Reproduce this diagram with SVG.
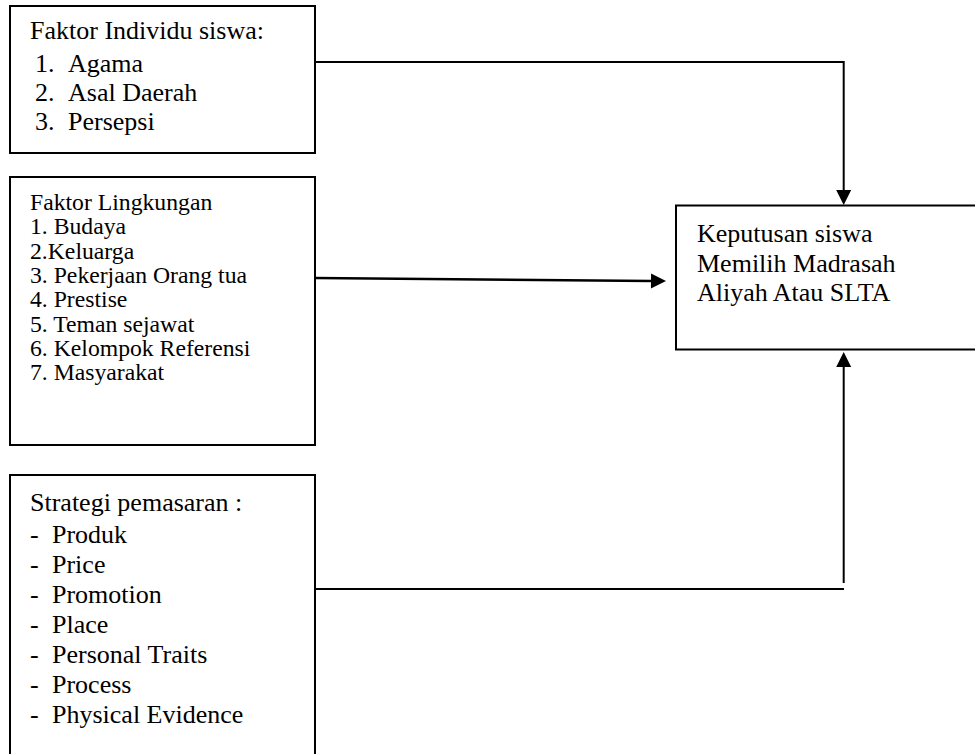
<svg xmlns="http://www.w3.org/2000/svg" width="975" height="754" viewBox="0 0 975 754">
<style>
.box{fill:#fff;stroke:#000;stroke-width:2}
.t{font-family:"Liberation Serif","Times New Roman",serif;font-size:26px;fill:#000}
.s{font-size:23.7px}
.c{fill:none;stroke:#000;stroke-width:2}
</style>
<defs>
<marker id="arr" markerUnits="userSpaceOnUse" markerWidth="16" markerHeight="16" refX="1" refY="7.5" orient="auto" overflow="visible">
<path d="M0,0 L15,7.5 L0,15 z" fill="#000"/>
</marker>
</defs>
<rect width="975" height="754" fill="#fff"/>
<g id="connectors">
<path class="c" d="M315,62 H843.7 V191" marker-end="url(#arr)"/>
<path class="c" d="M315,278 L652,281" marker-end="url(#arr)" style="stroke-width:2.5"/>
<path class="c" d="M315,589 H844"/>
<path class="c" d="M843.7,583 V366" marker-end="url(#arr)"/>
</g>
<g id="individu">
<rect class="box" x="10" y="6" width="305" height="147"/>
<text class="t" x="30" y="39">Faktor Individu siswa:</text>
<text class="t" x="35" y="72">1.</text><text class="t" x="68" y="72">Agama</text>
<text class="t" x="35" y="101">2.</text><text class="t" x="68" y="101">Asal Daerah</text>
<text class="t" x="35" y="130">3.</text><text class="t" x="68" y="130">Persepsi</text>
</g>
<g id="lingkungan">
<rect class="box" x="10" y="177" width="305" height="268"/>
<text class="t s" x="30" y="210">Faktor Lingkungan</text>
<text class="t s" x="30" y="234.3">1. Budaya</text>
<text class="t s" x="30" y="258.6">2.Keluarga</text>
<text class="t s" x="30" y="282.9">3. Pekerjaan Orang tua</text>
<text class="t s" x="30" y="307.2">4. Prestise</text>
<text class="t s" x="30" y="331.5">5. Teman sejawat</text>
<text class="t s" x="30" y="355.8">6. Kelompok Referensi</text>
<text class="t s" x="30" y="380.1">7. Masyarakat</text>
</g>
<g id="strategi">
<rect class="box" x="10" y="475" width="305" height="290"/>
<text class="t" x="30" y="511">Strategi pemasaran :</text>
<text class="t" x="30" y="543">-</text><text class="t" x="52" y="543">Produk</text>
<text class="t" x="30" y="573">-</text><text class="t" x="52" y="573">Price</text>
<text class="t" x="30" y="603">-</text><text class="t" x="52" y="603">Promotion</text>
<text class="t" x="30" y="633">-</text><text class="t" x="52" y="633">Place</text>
<text class="t" x="30" y="663">-</text><text class="t" x="52" y="663">Personal Traits</text>
<text class="t" x="30" y="693">-</text><text class="t" x="52" y="693">Process</text>
<text class="t" x="30" y="723">-</text><text class="t" x="52" y="723">Physical Evidence</text>
</g>
<g id="keputusan">
<rect class="box" x="676" y="205.5" width="320" height="144"/>
<text class="t" x="697" y="242">Keputusan siswa</text>
<text class="t" x="697" y="271.5">Memilih Madrasah</text>
<text class="t" x="697" y="301">Aliyah Atau SLTA</text>
</g>
</svg>
